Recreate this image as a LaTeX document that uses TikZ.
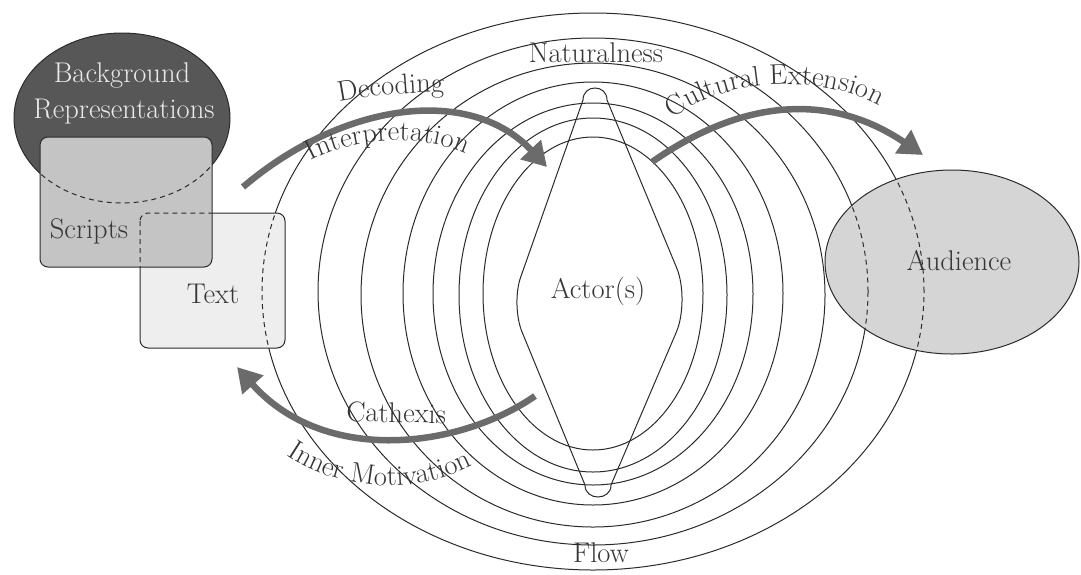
\documentclass[tikz,border=0pt]{standalone}
\usetikzlibrary{arrows.meta,decorations.text}
\definecolor{ink}{HTML}{2B2B2B}
\definecolor{txt}{HTML}{363636}
\definecolor{bgdark}{HTML}{575757}
\definecolor{bgtext}{HTML}{EAEAEA}
\definecolor{scriptfill}{HTML}{C4C4C4}
\definecolor{textfill}{HTML}{EEEEEE}
\definecolor{audfill}{HTML}{D5D5D5}
\definecolor{arrowgrey}{HTML}{6B6B6B}
\newcommand\lblfont{\fontsize{28.5}{33}\selectfont}
\begin{document}
\begin{tikzpicture}[x=1pt,y=-1pt,
  ring/.style={draw=ink, line width=1pt},
  hidden/.style={draw=ink, line width=1pt, dash pattern=on 5pt off 4pt},
  bigarrow/.style={draw=arrowgrey, line width=6.5pt, -{Triangle[length=24pt,width=27pt]}},
  lab/.style={text=txt, font=\lblfont, inner sep=0pt},
  curvelab/.style={decorate, decoration={text along path, text align=center, text={#1}}}
]
\fill[white] (0,0) rectangle (1081,574);
\useasboundingbox (0,0) rectangle (1081,574);

% concentric rings
\draw[ring] (593,293.5) ellipse [x radius=110pt, y radius=156.5pt];
\draw[ring] (593,295) ellipse [x radius=134pt, y radius=177pt];
\draw[ring] (593,294) ellipse [x radius=160pt, y radius=191pt];
\draw[ring] (593,293.5) ellipse [x radius=190pt, y radius=211.5pt];
\draw[ring] (593,295) ellipse [x radius=232pt, y radius=232pt];
\draw[ring] (593,291.5) ellipse [x radius=275pt, y radius=253.5pt];
\draw[ring] (593,291.5) ellipse [x radius=331pt, y radius=278.5pt];

% actor shape
\draw[ring] (583,100) .. controls (583,84) and (607,84) .. (607,100)
  -- (676.6,267.7) .. controls (684,285.5) and (683.8,314.5) .. (676.3,332.2)
  -- (611,485) .. controls (611,501) and (585,501) .. (585,485)
  -- (522.3,332.6) .. controls (515.8,317.4) and (515.1,292.3) .. (520.8,276.8)
  -- cycle;

% Text box
\draw[ink, line width=1pt, fill=textfill, rounded corners=8pt] (140,213) rectangle (285,348);
\begin{scope}
  \clip[rounded corners=8pt] (140,213) rectangle (285,348);
  \draw[hidden] (593,291.5) ellipse [x radius=331pt, y radius=278.5pt];
\end{scope}

% Background representations ellipse
\draw[ink, line width=1pt, fill=bgdark] (122,118) ellipse [x radius=108pt, y radius=85pt];

% Scripts box
\draw[ink, line width=1pt, fill=scriptfill, rounded corners=8pt] (40,137) rectangle (212,267);
\begin{scope}
  \clip[rounded corners=8pt] (40,137) rectangle (212,267);
  \draw[hidden] (122,118) ellipse [x radius=108pt, y radius=85pt];
  \draw[hidden, rounded corners=8pt] (140,213) rectangle (285,348);
\end{scope}

% Audience ellipse
\draw[ink, line width=1pt, fill=audfill] (952,262) ellipse [x radius=127pt, y radius=92pt];
\begin{scope}
  \clip (952,262) ellipse [x radius=127pt, y radius=92pt];
  \draw[hidden] (593,291.5) ellipse [x radius=275pt, y radius=253.5pt];
  \draw[hidden] (593,291.5) ellipse [x radius=331pt, y radius=278.5pt];
\end{scope}

% arrows
\coordinate (a1s) at (243,187);
\coordinate (a1e) at (547,167);
\coordinate (a2s) at (652,162);
\coordinate (a2e) at (923,155);
\coordinate (a3s) at (535,396);
\coordinate (a3e) at (237,367);
\draw[bigarrow] (a1s) .. controls (343,102) and (470,85) .. (a1e);
\draw[bigarrow] (a2s) .. controls (742,99) and (830,92) .. (a2e);
\draw[bigarrow] (a3s) .. controls (460,448) and (325,466) .. (a3e);

% labels
\node[lab, anchor=base] (nat) at (596,62) {Naturalness};
\node[lab, anchor=base] (flow) at (601,562) {Flow};
\node[lab, anchor=base] (actor) at (598,298) {Actor(s)};
\node[lab, anchor=base] (aud) at (959,270) {Audience};
\node[lab, anchor=base, text=bgtext] (bg1) at (122,82) {Background};
\node[lab, anchor=base, text=bgtext] (bg2) at (124,118) {Representations};
\node[lab, anchor=base] (scr) at (89,238) {Scripts};
\node[lab, anchor=base] (txtl) at (213,303) {Text};

% curved labels
\path[curvelab={|\lblfont\color{txt}|Decoding}] (318,107) .. controls (358,96) and (422,90) .. (466,93);
\path[curvelab={|\lblfont\color{txt}|Interpretation}] (296,170) .. controls (343,136) and (427,129) .. (481,162);
\path[curvelab={|\lblfont\color{txt}|Cultural Extension}] (656,134) .. controls (706,76) and (830,66) .. (898,118);
\path[curvelab={|\lblfont\color{txt}|Cathexis}] (326,421) -- (466,424);
\path[curvelab={|\lblfont\color{txt}|Inner Motivation}] (258,430) .. controls (320,499) and (436,504) .. (504,444);
\end{tikzpicture}
\end{document}
